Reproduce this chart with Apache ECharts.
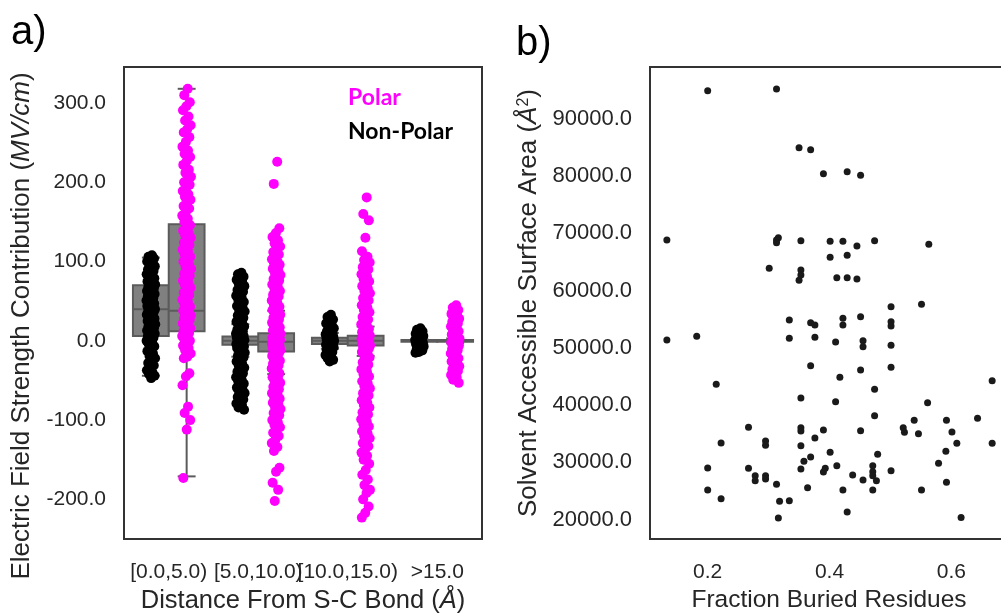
<!DOCTYPE html>
<html><head><meta charset="utf-8">
<script src="https://cdn.jsdelivr.net/npm/echarts@6/dist/echarts.min.js"></script>
<style>html,body{margin:0;padding:0;background:#fff}#c{width:1001px;height:613px}</style>
</head><body><div id="c"></div>
<script>
// ---------- data ----------
const categories = ['[0.0,5.0)', '[5.0,10.0)', '[10.0,15.0)', '>15.0'];
const yTicksA = [-200, -100, 0, 100, 200, 300];
const yTicksB = [20000, 30000, 40000, 50000, 60000, 70000, 80000, 90000];
const xTicksB = [0.2, 0.4, 0.6];

// box statistics: [lower whisker, Q1, median, Q3, upper whisker]
const boxNonPolar = [[-44, 6, 40, 70, 105], [-20, -5, 0, 5.5, 21], [-10, -4, 0, 4, 10], [-2, -1, 0, 1, 2]];
const boxPolar = [[-171, 12, 38, 147, 318], [-42, -13.5, -1, 9.6, 38], [-19, -6, 0, 6.3, 18], [-3, -1, 0, 1, 3]];

// strip points (Electric field contribution, MV/cm)
const nonPolar0 = [108, 106, 104, 102, 100, 98, 96, 94, 92, 90, 88, 86, 84, 82, 80, 79, 77, 75, 74, 72, 71, 69, 68, 66, 65, 63, 62, 60, 59, 57, 56, 54, 53, 51, 50, 48, 47, 45, 44, 42, 41, 40, 39, 37, 36, 34, 33, 31, 30, 28, 27, 25, 24, 22, 21, 19, 18, 16, 15, 13, 12, 10, 9, 7, 6, 4, 2, 0, -2, -4, -7, -10, -13, -16, -19, -22, -25, -28, -31, -34, -37, -40, -42, -44, -47];
const polar0 = [318, 310, 301, 296, 291, 283, 278, 272, 267, 263, 257, 251, 245, 240, 236, 232, 227, 222, 216, 212, 207, 203, 200, 197, 193, 189, 185, 182, 178, 174, 170, 167, 162, 158, 154, 150, 146, 142, 139, 136, 133, 130, 127, 124, 121, 118, 115, 112, 109, 106, 103, 100, 97, 94, 91, 88, 85, 82, 79, 76, 73, 70, 67, 64, 61, 58, 55, 52, 49, 46, 43, 40, 38, 36, 34, 32, 30, 28, 26, 24, 22, 20, 18, 16, 14, 12, 10, 8, 6, 4, 2, 0, -3, -6, -9, -12, -16, -20, -22, -41, -45, -56, -83, -91, -100, -112, -173];
const nonPolar1 = [86, 84, 81, 79, 77, 74, 72, 69, 67, 64, 62, 59, 57, 54, 52, 49, 47, 44, 42, 39, 37, 34, 32, 29, 27, 24, 22, 20, 18, 16, 14, 12, 10, 9, 8, 7, 6, 5, 4, 3, 2, 1, 0, -1, -2, -3, -4, -5, -6, -7, -8, -9, -11, -13, -15, -17, -19, -21, -24, -26, -29, -31, -34, -36, -39, -41, -44, -46, -49, -51, -54, -56, -59, -61, -64, -66, -69, -71, -74, -76, -79, -81, -84, -87];
const polar1 = [226, 198, 142, 136, 131, 127, 123, 119, 115, 112, 109, 106, 103, 100, 98, 96, 93, 91, 88, 86, 83, 81, 78, 76, 73, 71, 68, 66, 63, 61, 58, 56, 53, 51, 48, 46, 43, 41, 39, 37, 35, 33, 31, 29, 27, 25, 23, 21, 19, 17, 15, 13, 11, 10, 9, 8, 7, 6, 5, 4, 3, 2, 1, 0, -1, -2, -3, -4, -5, -6, -7, -8, -9, -10, -11, -12, -13, -14, -15, -17, -19, -21, -23, -25, -27, -29, -31, -33, -35, -37, -39, -41, -43, -46, -48, -51, -53, -56, -58, -61, -63, -66, -68, -71, -73, -76, -78, -81, -83, -86, -88, -91, -94, -97, -100, -103, -106, -109, -112, -116, -120, -125, -129, -134, -139, -160, -165, -179, -188, -202];
const nonPolar2 = [33, 30, 27, 24, 22, 20, 18, 16, 14, 12, 10, 9, 8, 7, 6, 5, 4, 3, 2, 1, 0, -1, -2, -3, -4, -5, -6, -7, -8, -10, -12, -14, -16, -18, -20, -22, -24, -26];
const polar2 = [181, 160, 152, 130, 113, 106, 102, 99, 96, 93, 90, 87, 84, 81, 78, 75, 72, 69, 66, 63, 60, 57, 54, 51, 48, 45, 42, 39, 36, 33, 30, 27, 24, 21, 19, 17, 15, 13, 11, 9, 8, 7, 6, 5, 4, 3, 2, 1, 0, -1, -2, -3, -4, -5, -6, -7, -8, -10, -12, -14, -16, -18, -21, -24, -27, -30, -33, -36, -39, -42, -45, -48, -51, -54, -57, -60, -63, -66, -69, -72, -75, -78, -81, -84, -87, -90, -93, -96, -99, -102, -105, -108, -111, -114, -117, -120, -123, -126, -129, -133, -137, -141, -145, -150, -155, -163, -169, -175, -182, -188, -192, -200, -209, -217, -223];
const nonPolar3 = [16, 14, 12, 10, 9, 8, 7, 6, 5, 4, 3, 2, 1, 0, -1, -2, -3, -4, -5, -6, -7, -8, -10, -12, -14, -15];
const polar3 = [45, 42, 39, 36, 34, 32, 30, 28, 26, 24, 22, 20, 18, 16, 14, 12, 10, 8, 6, 4, 3, 2, 1, 0, -1, -2, -3, -4, -6, -8, -10, -12, -14, -16, -18, -20, -22, -24, -26, -28, -30, -32, -34, -36, -38, -40, -43, -46, -49, -53];

// panel b
const fractionBuried = [0.200, 0.313, 0.350, 0.369, 0.390, 0.429, 0.451, 0.133, 0.316, 0.313, 0.313, 0.353, 0.401, 0.422, 0.445, 0.474, 0.563, 0.401, 0.429, 0.301, 0.353, 0.353, 0.350, 0.412, 0.429, 0.445, 0.501, 0.551, 0.334, 0.369, 0.376, 0.422, 0.422, 0.451, 0.501, 0.501, 0.133, 0.182, 0.334, 0.376, 0.410, 0.455, 0.455, 0.501, 0.369, 0.451, 0.501, 0.417, 0.667, 0.214, 0.474, 0.353, 0.410, 0.561, 0.474, 0.643, 0.539, 0.592, 0.267, 0.353, 0.353, 0.390, 0.451, 0.521, 0.523, 0.546, 0.601, 0.222, 0.295, 0.295, 0.376, 0.353, 0.609, 0.667, 0.401, 0.479, 0.591, 0.369, 0.358, 0.579, 0.200, 0.267, 0.353, 0.390, 0.393, 0.412, 0.471, 0.501, 0.278, 0.278, 0.295, 0.295, 0.438, 0.471, 0.471, 0.455, 0.477, 0.313, 0.200, 0.364, 0.422, 0.471, 0.551, 0.592, 0.222, 0.318, 0.334, 0.429, 0.316, 0.616];
const surfaceArea = [94950, 95240, 84980, 84630, 80440, 80790, 80160, 68850, 69250, 68850, 68380, 68730, 68620, 68620, 67800, 68730, 68100, 65830, 66180, 63900, 63610, 62730, 61800, 62260, 62260, 62030, 57190, 57610, 54870, 54390, 53990, 55160, 53990, 55440, 54570, 53820, 51370, 52020, 51670, 51840, 51020, 51250, 50200, 50440, 46880, 46130, 46600, 44850, 44260, 43620, 42750, 41230, 40580, 40410, 38140, 37680, 37330, 37330, 36110, 36040, 35460, 35640, 35520, 36040, 35240, 34990, 35290, 33370, 33720, 32960, 34240, 32890, 33310, 33310, 31740, 31390, 31920, 30920, 30170, 29820, 29000, 28940, 28820, 28300, 28940, 29400, 29400, 28520, 27650, 26780, 27650, 27070, 27770, 28350, 27650, 26900, 26780, 26150, 25150, 25550, 25150, 25150, 25150, 26490, 23630, 23180, 23280, 21300, 20250, 20370];

// ---------- build ----------
const FONT = '"Liberation Sans", Arial, sans-serif';
const TXT = '#262626';
const EDGE = '#5b5b5b';
const FILL = '#808080';
const HUE_OFF = 0.2, JIT = 0.05;
const groupsNP = [nonPolar0, nonPolar1, nonPolar2, nonPolar3];
const groupsP = [polar0, polar1, polar2, polar3];

function jitter(j) { return ((((j + 1) * 0.6180339887) % 1) - 0.5) * 2 * JIT; }
function strip(groups, off) {
  const out = [];
  groups.forEach((g, i) => g.forEach((v, j) => out.push([i + off + jitter(j), v])));
  return out;
}
function boxRender(off) {
  return function (params, api) {
    const i = api.value(0);
    const lo = api.value(1), q1 = api.value(2), med = api.value(3), q3 = api.value(4), hi = api.value(5);
    const xc = i + off, hw = 0.2, cw = 0.1;
    const c = (x, y) => api.coord([x, y]);
    const line = (a, b) => ({ type: 'line', shape: { x1: a[0], y1: a[1], x2: b[0], y2: b[1] }, style: { stroke: EDGE, lineWidth: 2 } });
    const pL = c(xc - hw, q3), pR = c(xc + hw, q1);
    return {
      type: 'group', children: [
        line(c(xc, q3), c(xc, hi)), line(c(xc - cw, hi), c(xc + cw, hi)),
        line(c(xc, q1), c(xc, lo)), line(c(xc - cw, lo), c(xc + cw, lo)),
        { type: 'rect', shape: { x: pL[0], y: pL[1], width: pR[0] - pL[0], height: Math.max(pR[1] - pL[1], 0.5) }, style: { fill: FILL, stroke: EDGE, lineWidth: 2 } },
        line(c(xc - hw, med), c(xc + hw, med))
      ]
    };
  };
}
const scatterB = fractionBuried.map((x, k) => [x, surfaceArea[k]]);

const tickLabel = (size) => ({ fontSize: size, color: TXT, fontFamily: FONT });
const nameStyle = (size, extra) => Object.assign({
  fontSize: size, color: TXT, fontFamily: FONT,
  rich: {
    it: { fontSize: size, fontStyle: 'italic', color: TXT, fontFamily: FONT },
    sup: { fontSize: Math.round(size * 0.62), color: TXT, fontFamily: FONT, verticalAlign: 'top', padding: [0, 0, 10, 0] }
  }
}, extra || {});

const chart = echarts.init(document.getElementById('c'));
chart.setOption({
  animation: false,
  backgroundColor: '#fff',
  grid: [
    { left: 124, top: 67, width: 358, height: 472, outerBoundsMode: 'none', containLabel: false, show: true, borderColor: '#333', borderWidth: 2, backgroundColor: 'transparent' },
    { left: 650, top: 67, width: 358, height: 472, outerBoundsMode: 'none', containLabel: false, show: true, borderColor: '#333', borderWidth: 2, backgroundColor: 'transparent' }
  ],
  legend: {
    orient: 'vertical', left: 338, top: 81, itemWidth: 0, itemHeight: 0, itemGap: 11, icon: 'none',
    selectedMode: false,
    textStyle: { fontSize: 23, fontWeight: 'bold', fontFamily: 'Lato, "Open Sans", sans-serif' },
    data: [{ name: 'Polar', textStyle: { color: '#ff00ff' } }, { name: 'Non-Polar', textStyle: { color: '#000' } }]
  },
  graphic: [
    { type: 'text', left: 11, top: 13, style: { text: 'a)', font: '40px "Liberation Sans", Arial', fill: '#000' } },
    { type: 'text', left: 516, top: 24, style: { text: 'b)', font: '40px "Liberation Sans", Arial', fill: '#000' } }
  ],
  xAxis: [
    {
      type: 'category', gridIndex: 0, data: categories, boundaryGap: true,
      axisLine: { show: false }, axisTick: { show: false }, splitLine: { show: false },
      axisLabel: Object.assign({ interval: 0, margin: 23 }, tickLabel(21)),
      name: 'Distance From S-C Bond ({it|Å})', nameLocation: 'middle', nameGap: 49, nameTextStyle: nameStyle(25.5)
    },
    { type: 'value', gridIndex: 0, min: -0.5, max: 3.5, show: false },
    {
      type: 'value', gridIndex: 1, min: 0.1053, max: 0.693,
      axisLine: { show: false }, axisTick: { show: false }, splitLine: { show: false },
      axisLabel: Object.assign({ customValues: xTicksB, formatter: v => v.toFixed(1), margin: 23 }, tickLabel(21)),
      name: 'Fraction Buried Residues', nameLocation: 'middle', nameGap: 49, nameTextStyle: nameStyle(24.5)
    }
  ],
  yAxis: [
    {
      type: 'value', gridIndex: 0, min: -250, max: 345.5,
      axisLine: { show: false }, axisTick: { show: false }, splitLine: { show: false },
      axisLabel: Object.assign({ customValues: yTicksA, formatter: v => v.toFixed(1), margin: 18 }, tickLabel(21)),
      name: 'Electric Field Strength Contribution ({it|MV/cm})', nameLocation: 'middle', nameRotate: 90, nameGap: 89,
      nameTextStyle: nameStyle(26, { padding: [0, 46, 0, 0] })
    },
    {
      type: 'value', gridIndex: 1, min: 16592, max: 99089,
      axisLine: { show: false }, axisTick: { show: false }, splitLine: { show: false },
      axisLabel: Object.assign({ customValues: yTicksB, formatter: v => v.toFixed(1), margin: 18 }, tickLabel(22)),
      name: 'Solvent Accessible Surface Area ({it|Å}{sup|2})', nameLocation: 'middle', nameRotate: 90, nameGap: 108,
      nameTextStyle: nameStyle(26)
    }
  ],
  series: [
    { type: 'custom', xAxisIndex: 1, yAxisIndex: 0, z: 2, renderItem: boxRender(-HUE_OFF), encode: { x: 0, y: [1, 2, 3, 4, 5] }, data: boxNonPolar.map((s, i) => [i].concat(s)), silent: true },
    { type: 'custom', xAxisIndex: 1, yAxisIndex: 0, z: 2, renderItem: boxRender(HUE_OFF), encode: { x: 0, y: [1, 2, 3, 4, 5] }, data: boxPolar.map((s, i) => [i].concat(s)), silent: true },
    { type: 'scatter', name: 'Non-Polar', xAxisIndex: 1, yAxisIndex: 0, z: 3, symbolSize: 10, itemStyle: { color: '#000', opacity: 1 }, data: strip(groupsNP, -HUE_OFF) },
    { type: 'scatter', name: 'Polar', xAxisIndex: 1, yAxisIndex: 0, z: 3, symbolSize: 10, itemStyle: { color: '#ff00ff', opacity: 1 }, data: strip(groupsP, HUE_OFF) },
    { type: 'scatter', name: 'SASA', xAxisIndex: 2, yAxisIndex: 1, z: 3, symbolSize: 7, itemStyle: { color: '#1a1a1a', opacity: 1 }, data: scatterB }
  ]
});
</script></body></html>
